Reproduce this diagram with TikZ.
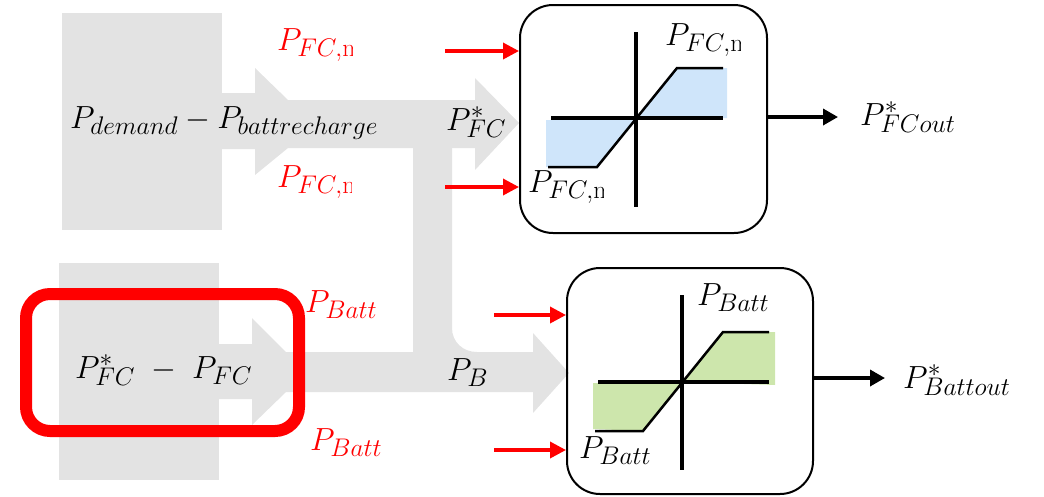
\RequirePackage{fix-cm}
\documentclass[tikz,border=0pt]{standalone}
\usetikzlibrary{arrows.meta}
\DeclareMathSizes{32}{32}{25.5}{20}
\definecolor{flowgray}{RGB}{227,227,227}
\definecolor{fcblue}{RGB}{207,229,250}
\definecolor{battgreen}{RGB}{205,230,172}
\tikzset{
 lbl/.style={inner sep=0pt, anchor=base west, font=\fontsize{32}{38}\selectfont},
 redlbl/.style={lbl, text=red},
 redarrow/.style={draw=red, line width=3.5pt, -{Triangle[length=16pt,width=16pt]}},
 outarrow/.style={draw=black, line width=3.5pt, -{Triangle[length=15pt,width=16pt]}},
 satbox/.style={draw, line width=2pt, rounded corners=33pt, inner sep=0pt},
 axisline/.style={line width=3.5pt},
 satcurve/.style={line width=2.5pt},
 flow/.style={fill=flowgray, draw=none},
}
\begin{document}
\begin{tikzpicture}[x=1pt,y=-1pt]
\useasboundingbox (0,0) rectangle (1044,496);
% grey flow arrows
\fill[flow] (62,13) rectangle (222,230);
\fill[flow] (222,93) -- (255,93) -- (255,68) -- (288,100) -- (475,100) -- (475,78) -- (519,123) -- (475,170) -- (475,148) -- (288,148) -- (255,175) -- (255,149) -- (222,149) -- cycle;
\fill[flow] (413,147) -- (452,147) -- (452,328) .. controls (452,342) and (463,352) .. (477,352) -- (533,352) -- (533,333) -- (569,373) -- (533,413) -- (533,392) -- (285,392) -- (285,352) -- (413,352) -- cycle;
\fill[flow] (59,263) rectangle (219,480);
\fill[flow] (219,344) -- (252,344) -- (252,318) -- (286,352) -- (286,392) -- (252,425) -- (252,399) -- (219,399) -- cycle;
% red highlight
\node[draw=red, line width=12pt, rounded corners=24pt, minimum width=273pt, minimum height=137pt, inner sep=0pt] (errbox) at (162.5,362.5) {};
% saturation boxes
\node[satbox, minimum width=247pt, minimum height=228pt] (fcbox) at (643.5,119) {};
\node[satbox, minimum width=246pt, minimum height=226pt] (battbox) at (690,381) {};
% FC characteristic
\fill[fcblue] (636,118) -- (677,68) -- (727,68) -- (727,118) -- cycle;
\fill[fcblue] (546,120) -- (636,120) -- (597,167) -- (546,167) -- cycle;
\draw[axisline] (636,32) -- (636,207);
\draw[axisline] (551,118) -- (723,118);
\draw[satcurve] (548,167) -- (597,167) -- (677,68) -- (723,68);
% Battery characteristic
\fill[battgreen] (682,382) -- (723,332) -- (775,332) -- (775,385) -- cycle;
\fill[battgreen] (593,383) -- (682,383) -- (643,431) -- (593,429) -- cycle;
\draw[axisline] (682,295) -- (682,470);
\draw[axisline] (598,382) -- (769,382);
\draw[satcurve] (595,431) -- (643,431) -- (723,332) -- (769,332);
% labels
\node[lbl] (demand) at (70,128) {$P_{demand} - P_{battrecharge}$};
\node[lbl] (pfcstar) at (446,130) {$P^*_{FC}$};
\node[lbl] (pdiff) at (75,378) {$P^*_{FC}\;-\;P_{FC}$};
\node[lbl] (pb) at (447,380) {$P_B$};
\begin{scope}
\clip (270,10) rectangle (352,70);
\node[redlbl] (fcmaxred) at (277,50) {$P_{FC,\mathrm{m}}$};
\end{scope}
\begin{scope}
\clip (270,150) rectangle (351.5,205);
\node[redlbl] (fcminred) at (277,187) {$P_{FC,\mathrm{m}}$};
\end{scope}
\begin{scope}
\clip (655,10) rectangle (740,62);
\node[lbl] (fcmaxin) at (665,45) {$P_{FC,\mathrm{m}}$};
\end{scope}
\begin{scope}
\clip (520,155) rectangle (603,210);
\node[lbl] (fcminin) at (528,192) {$P_{FC,\mathrm{m}}$};
\end{scope}
\node[redlbl] (battmaxred) at (305,312) {$P_{Batt}$};
\node[redlbl] (battminred) at (310,450) {$P_{Batt}$};
\node[lbl] (battmaxin) at (697,305) {$P_{Batt}$};
\node[lbl] (battminin) at (579,458) {$P_{Batt}$};
\node[lbl] (fcout) at (860,125) {$P^*_{FCout}$};
\node[lbl] (battout) at (903,388) {$P^*_{Battout}$};
% connectors
\coordinate (fcmaxsrc) at (445,51);
\coordinate (fcminsrc) at (445,187);
\coordinate (battmaxsrc) at (494,315);
\coordinate (battminsrc) at (494,450);
\draw[redarrow] (fcmaxsrc) -- (fcmaxsrc -| fcbox.west);
\draw[redarrow] (fcminsrc) -- (fcminsrc -| fcbox.west);
\draw[redarrow] (battmaxsrc) -- (battmaxsrc -| battbox.west);
\draw[redarrow] (battminsrc) -- (battminsrc -| battbox.west);
\coordinate (fcoutend) at (838,117);
\coordinate (battoutend) at (885,378);
\draw[outarrow] (fcoutend -| fcbox.east) -- (fcoutend);
\draw[outarrow] (battoutend -| battbox.east) -- (battoutend);
\end{tikzpicture}
\end{document}
